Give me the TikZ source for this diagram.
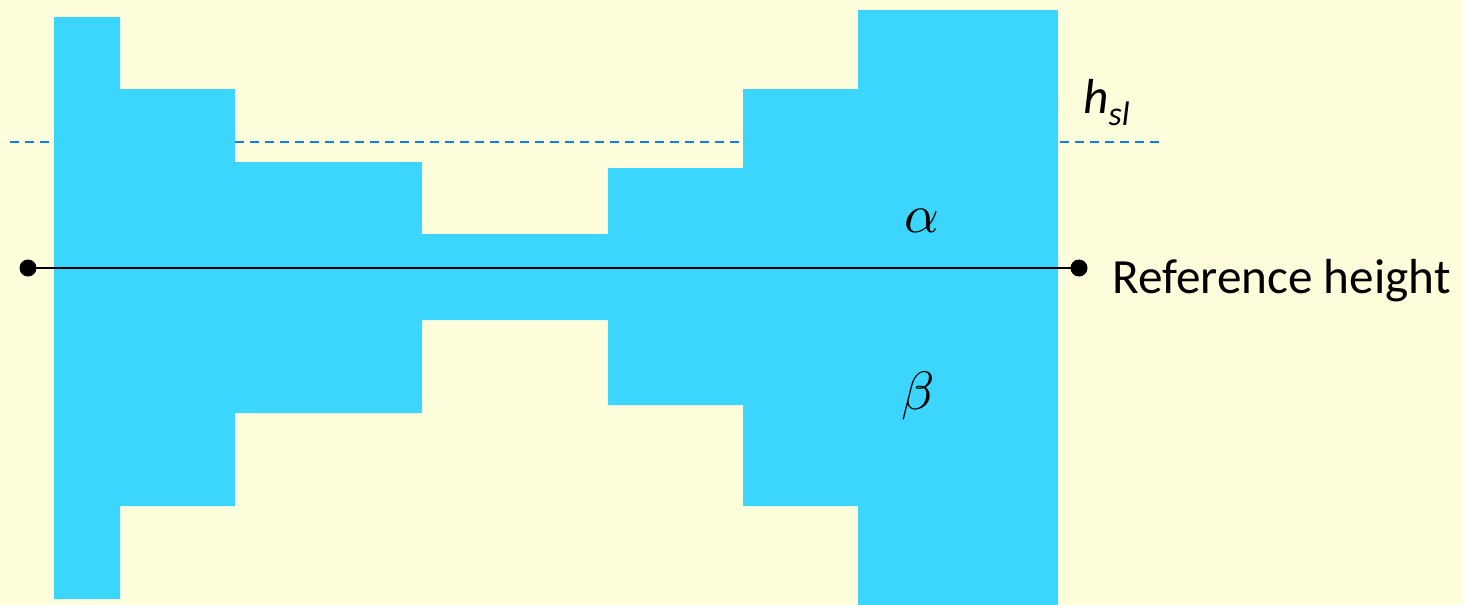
\documentclass[tikz,border=0pt]{standalone}
\usepackage{fontspec}
\setmainfont{Carlito}
\usepackage{unicode-math}
\setmathfont{Latin Modern Math}
\definecolor{bgyellow}{RGB}{255,254,220}
\definecolor{shapeblue}{RGB}{59,213,254}
\definecolor{dashblue}{RGB}{15,130,220}
\begin{document}
\begin{tikzpicture}[x=0.5pt,y=-0.5pt,
  dot/.style={circle,fill=black,inner sep=0pt,minimum size=8.5pt},
  reftext/.style={font=\fontsize{24.6}{28}\selectfont,inner sep=0pt},
  greek/.style={font=\fontsize{27}{30}\selectfont,inner sep=0pt}]
\fill[bgyellow] (0,0) rectangle (1463,605);
\useasboundingbox (0,0) rectangle (1463,605);
% level line
\coordinate (hl) at (10,142);
\coordinate (hr) at (1165,142);
\draw[dashblue,line width=1.3pt,dash pattern=on 4.5pt off 3pt] (hl) -- (hr);
% stepped profile
\fill[shapeblue] (54,17) -- (120,17) -- (120,89) -- (235,89) -- (235,162) -- (422,162)
  -- (422,234) -- (608,234) -- (608,168) -- (743,168) -- (743,89) -- (858,89)
  -- (858,10) -- (1058,10) -- (1058,605) -- (858,605) -- (858,506) -- (743,506)
  -- (743,405) -- (608,405) -- (608,320) -- (422,320) -- (422,413) -- (235,413)
  -- (235,506) -- (120,506) -- (120,599) -- (54,599) -- cycle;
% reference line
\node[dot] (d1) at (28,268) {};
\node[dot] (d2) at (1079,268) {};
\draw[line width=1.1pt] (d1.center) -- (d2.center);
% labels
\node[reftext,anchor=base west] (ref) at (1112,293) {Reference height};
\node[reftext,anchor=base west] (hsl) at (1083,113) {\itshape h\raisebox{-6pt}{\fontsize{17}{18}\selectfont sl}};
\node[greek,anchor=base] (alpha) at (922,232) {$\alpha$};
\node[greek,anchor=base] (beta) at (918,409) {$\beta$};
\end{tikzpicture}
\end{document}
